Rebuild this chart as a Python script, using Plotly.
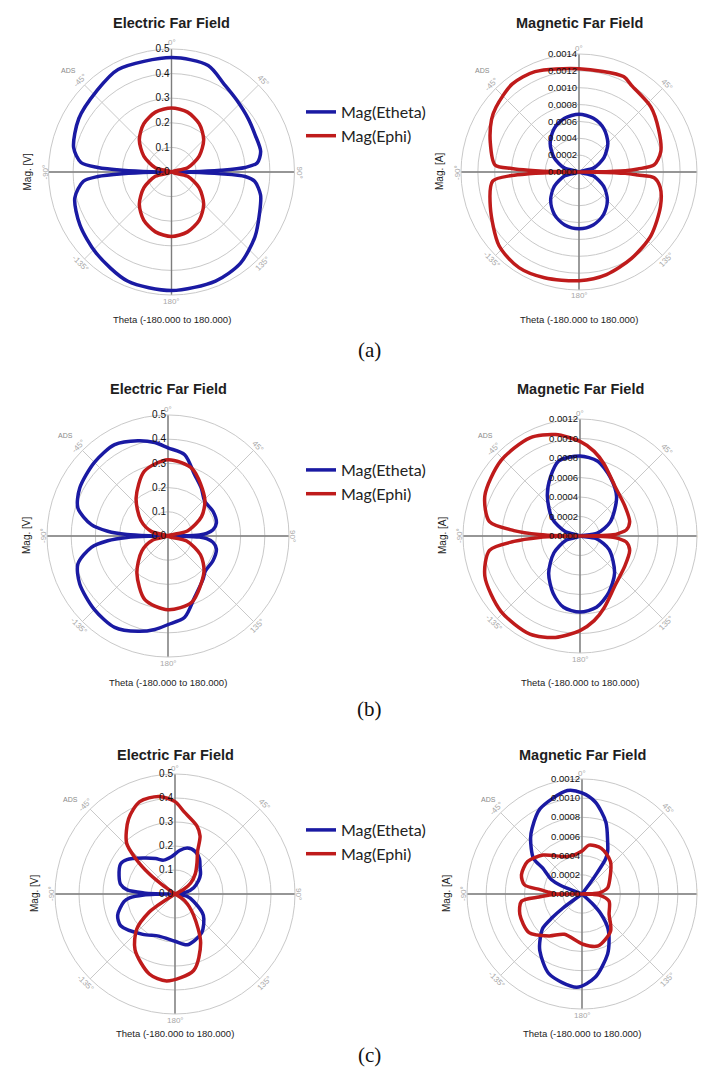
import math
import plotly.graph_objects as go

W, H = 706, 1069

# ---------------- data (theta: degrees clockwise from top) ----------------
# (a) Electric far field
a_e_etheta_theta = [0, 19, 31, 42, 55, 66, 77, 84, 86.5, 88, 89.3, 90, 90.7, 92, 93.5, 96.4, 104.5, 115, 128, 143, 158, 180,
                    202, 223, 240, 255, 264, 266.5, 268, 269.3, 270, 270.7, 272, 273.5, 276, 284, 300, 317, 332.5, 360]
a_e_etheta_r = [0.465, 0.458, 0.416, 0.395, 0.38, 0.372, 0.372, 0.35, 0.30, 0.20, 0.08, 0.0, 0.08, 0.20, 0.30, 0.34, 0.374, 0.395, 0.43, 0.465, 0.478, 0.482,
                0.478, 0.45, 0.43, 0.407, 0.36, 0.30, 0.20, 0.08, 0.0, 0.08, 0.20, 0.30, 0.37, 0.41, 0.435, 0.448, 0.47, 0.465]
a_e_ephi_theta = [0, 15, 30, 45, 60, 75, 90, 105, 120, 135, 150, 165, 180, 195, 210, 225, 240, 255, 270, 285, 300, 315, 330, 345, 360]
a_e_ephi_r = [0.26, 0.252, 0.226, 0.185, 0.13, 0.068, 0.0, 0.068, 0.13, 0.185, 0.226, 0.252, 0.262, 0.252, 0.226, 0.185, 0.13, 0.068, 0.0, 0.068, 0.13, 0.185, 0.226, 0.252, 0.26]

# (a) Magnetic far field
a_m_etheta_theta = [0, 15, 30, 45, 60, 75, 90, 105, 120, 135, 150, 165, 180, 195, 210, 225, 240, 255, 270, 285, 300, 315, 330, 345, 360]
a_m_etheta_r = [0.000685, 0.00066, 0.000592, 0.000484, 0.000342, 0.000177, 0.0, 0.000174, 0.000337, 0.000476, 0.000583, 0.00065, 0.000673,
                0.00065, 0.000583, 0.000476, 0.000337, 0.000174, 0.0, 0.000177, 0.000342, 0.000484, 0.000592, 0.00066, 0.000685]
a_m_ephi_theta = [0, 25, 31.4, 47.8, 62, 76, 84.6, 87, 88.3, 89.4, 90, 90.6, 91.7, 93, 94.4, 100.7, 113, 131.6, 148.7, 165, 180,
                  198.1, 212.1, 227.3, 248.6, 264, 267, 268, 269.4, 270, 270.6, 272, 273, 274.8, 288.5, 301, 308.1, 322.7, 336.3, 360]
a_m_ephi_r = [0.001225, 0.00125, 0.0012, 0.00115, 0.00107, 0.001, 0.000895, 0.0007, 0.00055, 0.0002, 0.0, 0.0002, 0.00055, 0.0007, 0.000894, 0.00098, 0.00105, 0.00114, 0.0012, 0.00126, 0.00129,
              0.00132, 0.00134, 0.00129, 0.00113, 0.00103, 0.0008, 0.0006, 0.00022, 0.0, 0.00022, 0.0006, 0.0008, 0.001, 0.00111, 0.00121, 0.00125, 0.00131, 0.0013, 0.001225]

# (b) Electric far field
b_e_etheta_theta = [0, 11.6, 23.5, 34.8, 46.6, 61.2, 75, 82, 86, 88, 89.3, 90, 90.7, 92, 94, 98, 105, 118.8, 133.4, 141, 156.5, 168.4, 180,
                    188, 197.5, 210.3, 225, 241.5, 252.7, 261.6, 265.5, 268, 269.3, 270, 270.7, 272, 274.5, 278.4, 287.3, 298.5, 315, 329.7, 342.5, 352, 360]
b_e_etheta_r = [0.364, 0.343, 0.276, 0.241, 0.209, 0.212, 0.207, 0.188, 0.16, 0.13, 0.06, 0.0, 0.06, 0.13, 0.16, 0.188, 0.207, 0.212, 0.212, 0.23, 0.276, 0.343, 0.366,
                0.39, 0.413, 0.437, 0.43, 0.415, 0.39, 0.32, 0.25, 0.17, 0.08, 0.0, 0.08, 0.17, 0.25, 0.32, 0.39, 0.415, 0.43, 0.437, 0.413, 0.39, 0.364]
b_e_ephi_theta = [0, 20, 45, 60, 75, 90, 105, 120, 135, 160, 180, 200, 220, 240, 255, 270, 285, 300, 320, 340, 360]
b_e_ephi_r = [0.315, 0.295, 0.215, 0.16, 0.085, 0.0, 0.08, 0.155, 0.21, 0.29, 0.305, 0.28, 0.2, 0.125, 0.065, 0.0, 0.07, 0.13, 0.205, 0.285, 0.315]

# (b) Magnetic far field
b_m_etheta_theta = [0, 13, 27, 43, 65, 80.5, 90, 99.5, 115, 137, 153, 167, 180, 193, 205, 220, 237, 253, 270, 287, 302.1, 320.8, 333.7, 344.3, 360]
b_m_etheta_r = [0.00082, 0.00079, 0.00068, 0.00055, 0.000343, 0.00018, 0.0, 0.00017, 0.00033, 0.00052, 0.00065, 0.00075, 0.00078,
                0.00075, 0.00065, 0.0005, 0.00032, 0.00015, 0.0, 0.00016, 0.000336, 0.00053, 0.00068, 0.0008, 0.00082]
b_m_ephi_theta = [0, 9.5, 18.3, 35, 56, 74, 82.5, 86, 88, 89.3, 90, 90.7, 92, 94, 97.5, 106, 124, 145, 161.7, 170.5, 180,
                  193.6, 207, 226.4, 247, 261, 265.3, 268, 269.3, 270, 270.7, 272, 274.7, 279, 293, 313.6, 333, 346.4, 360]
b_m_ephi_r = [0.00097, 0.00088, 0.00078, 0.000624, 0.000554, 0.00053, 0.00048, 0.0004, 0.00034, 0.00015, 0.0, 0.00015, 0.00034, 0.0004, 0.00048, 0.00053, 0.000554, 0.000624, 0.00078, 0.00088, 0.00097,
              0.00107, 0.00113, 0.00112, 0.00106, 0.00094, 0.00068, 0.00042, 0.0002, 0.0, 0.0002, 0.00042, 0.00068, 0.00094, 0.00106, 0.00112, 0.00113, 0.00107, 0.00097]

# (c) Electric far field
c_e_etheta_theta = [-90, -89, -88, -85, -80, -72, -61, -54.4, -41.6, -28.6, -18.7, -5.5, 6, 15, 25.6, 35, 43, 52, 60.7, 71.6, 80, 90,
                    100, 112, 127, 145.4, 166, 180, 201, 218.6, 239.7, 249.6, 261.5, 265, 268, 269, 270]
c_e_etheta_r = [0.0, 0.08, 0.13, 0.2, 0.23, 0.245, 0.259, 0.246, 0.2, 0.168, 0.149, 0.156, 0.182, 0.198, 0.196, 0.178, 0.153, 0.135, 0.112, 0.082, 0.05, 0.0,
                0.05, 0.084, 0.148, 0.196, 0.218, 0.197, 0.188, 0.215, 0.262, 0.255, 0.215, 0.19, 0.13, 0.08, 0.0]
c_e_ephi_theta = [-56, -54, -52, -48, -43.5, -31.7, -20.9, -9.4, 0, 6.4, 17.8, 23.4, 28, 35, 45, 55, 62, 68,
                  115, 125, 138.8, 152.3, 166.3, 185.5, 197.8, 215.6, 227.4, 235, 236.5, 239, 304]
c_e_ephi_r = [0.0, 0.07, 0.135, 0.22, 0.293, 0.368, 0.412, 0.412, 0.385, 0.344, 0.298, 0.263, 0.2, 0.16, 0.12, 0.08, 0.04, 0.0,
              0.0, 0.05, 0.118, 0.23, 0.328, 0.364, 0.35, 0.286, 0.217, 0.131, 0.09, 0.0, 0.0]

# (c) Magnetic far field
c_m_etheta_theta = [-72, -68, -65, -56.6, -53.6, -42.8, -37.3, -26.3, -8, 0, 8.2, 18.4, 26, 31, 34, 35.5, 37, 38,
                    128, 133, 136.6, 143, 150, 157, 171, 183.2, 202.4, 216.6, 223, 229, 231.5, 233.5, 235, 288]
c_m_etheta_r = [0.0, 0.00025, 0.00035, 0.00049, 0.00063, 0.00079, 0.00086, 0.00099, 0.00109, 0.001055, 0.00097, 0.00079, 0.00061, 0.00052, 0.00044, 0.00028, 0.00012, 0.0,
                0.0, 0.00015, 0.00029, 0.00045, 0.000565, 0.000682, 0.00088, 0.000974, 0.000902, 0.000738, 0.00064, 0.00054, 0.0004, 0.00025, 0.0, 0.0]
c_m_ephi_theta = [-90, -89.5, -86.5, -84, -81, -72.4, -59.2, -45.1, -25, -12, 0, 8.2, 23, 41.4, 60.5, 76.9, 86, 88, 90,
                  92, 94, 104.9, 127, 142.3, 162.6, 179, 203.5, 218.1, 233.9, 251.7, 263.2, 266, 268, 269.5, 270]
c_m_ephi_r = [0.0, 0.00028, 0.00036, 0.00044, 0.000608, 0.000663, 0.000661, 0.000576, 0.00043, 0.000415, 0.000448, 0.000515, 0.000517, 0.00045, 0.000335, 0.000273, 0.00018, 0.00011, 0.0,
              0.00011, 0.00018, 0.000292, 0.000354, 0.000488, 0.000567, 0.000524, 0.000459, 0.000556, 0.000684, 0.000683, 0.000636, 0.00045, 0.00035, 0.00028, 0.0]

# axis settings
e_range, e_dtick = 0.5, 0.1
m_range_a, m_range_bc, m_dtick = 0.0014, 0.0012, 0.0002

angle_vals = [0, 45, 90, 135, 180, 225, 270, 315]
angle_text = ["0°", "45°", "90°", "135°", "180°", "-135°", "-90°", "-45°"]
angle_rot = [0, 45, 90, -45, 0, 45, -90, -45]

BLUE = "#1a1aa3"
RED = "#bf1b1b"
GRID = "#c9c9c9"
CROSS = "#7d7d7d"
FONT = "Liberation Sans, Arial"

# panels: id, centre px, radius px, rmax, dtick, fmt, unit, title, series, legend, title y, theta-label y, ADS pos
panels = [
    ("polar", (163.5, 164), 123, e_range, e_dtick, ".1f", "Mag. [V]", "Electric Far Field",
     (a_e_etheta_theta, a_e_etheta_r, a_e_ephi_theta, a_e_ephi_r), "legend", 15, 311, (60, 62)),
    ("polar2", (571, 164), 118, m_range_a, m_dtick, ".4f", "Mag. [A]", "Magnetic Far Field",
     (a_m_etheta_theta, a_m_etheta_r, a_m_ephi_theta, a_m_ephi_r), None, 15, 311, (474, 62)),
    ("polar3", (160, 528), 121, e_range, e_dtick, ".1f", "Mag. [V]", "Electric Far Field",
     (b_e_etheta_theta, b_e_etheta_r, b_e_ephi_theta, b_e_ephi_r), "legend2", 381, 674, (57, 427)),
    ("polar4", (572, 528), 117, m_range_bc, m_dtick, ".4f", "Mag. [A]", "Magnetic Far Field",
     (b_m_etheta_theta, b_m_etheta_r, b_m_ephi_theta, b_m_ephi_r), None, 381, 674, (477, 427)),
    ("polar5", (167, 886), 120, e_range, e_dtick, ".1f", "Mag. [V]", "Electric Far Field",
     (c_e_etheta_theta, c_e_etheta_r, c_e_ephi_theta, c_e_ephi_r), "legend3", 747, 1025, (62, 791)),
    ("polar6", (574, 886), 115, m_range_bc, m_dtick, ".4f", "Mag. [A]", "Magnetic Far Field",
     (c_m_etheta_theta, c_m_etheta_r, c_m_ephi_theta, c_m_ephi_r), None, 747, 1025, (480, 791)),
]

fig = go.Figure()
layout = {}
annotations = []


def px(x):
    return x / W


def py(y):
    return 1 - y / H


for (pid, (cx, cy), rad, rmax, dtick, fmt, unit, title, series, leg,
     ty, thy, ads) in panels:
    layout[pid] = dict(
        domain=dict(x=[px(cx - rad), px(cx + rad)], y=[py(cy + rad), py(cy - rad)]),
        bgcolor="white",
        angularaxis=dict(rotation=90, direction="clockwise", tickmode="array",
                         tickvals=angle_vals, showticklabels=False,
                         showgrid=True, gridcolor=GRID, gridwidth=1,
                         showline=True, linecolor=GRID, linewidth=1, ticks=""),
        radialaxis=dict(range=[0, rmax], dtick=dtick, tickformat=fmt, angle=90,
                        side="counterclockwise", tickangle=90,
                        tickfont=dict(family=FONT, size=9.5 if fmt == ".4f" else 10, color="#111111"),
                        showline=False, showgrid=True, gridcolor=GRID, gridwidth=1, ticks=""),
    )
    fig.add_trace(go.Scatterpolar(r=[rmax, 0, rmax], theta=[0, 0, 180], mode="lines",
                                  line=dict(color=CROSS, width=1.4), subplot=pid,
                                  showlegend=False, hoverinfo="skip"))
    fig.add_trace(go.Scatterpolar(r=[rmax, 0, rmax], theta=[90, 90, 270], mode="lines",
                                  line=dict(color=CROSS, width=1.4), subplot=pid,
                                  showlegend=False, hoverinfo="skip"))
    th_t, r_t, th_p, r_p = series
    is_e = leg is not None
    fig.add_trace(go.Scatterpolar(r=r_t, theta=th_t, mode="lines", name="Mag(Etheta)",
                                  line=dict(color=BLUE, width=3.5, shape="spline", smoothing=0.8),
                                  subplot=pid, showlegend=is_e, legend=leg if is_e else "legend"))
    fig.add_trace(go.Scatterpolar(r=r_p, theta=th_p, mode="lines", name="Mag(Ephi)",
                                  line=dict(color=RED, width=3.5, shape="spline", smoothing=0.8),
                                  subplot=pid, showlegend=is_e, legend=leg if is_e else "legend"))

    # angular labels, written tangentially like the reference
    for av, at, ar in zip(angle_vals, angle_text, angle_rot):
        rr = rad + (4 if av in (90, 270) else 6)
        ax_ = cx + rr * math.sin(math.radians(av))
        ay_ = cy - rr * math.cos(math.radians(av))
        annotations.append(dict(text=at, x=px(ax_), y=py(ay_), xref="paper", yref="paper",
                                showarrow=False, textangle=ar,
                                font=dict(family=FONT, size=8, color="#a8a8a8"),
                                xanchor="center", yanchor="middle"))

    annotations.append(dict(text="<b>%s</b>" % title, x=px(cx), y=py(ty), xref="paper", yref="paper",
                            showarrow=False, font=dict(family=FONT, size=14.5, color="#1e1e1e"),
                            xanchor="center", yanchor="middle"))
    annotations.append(dict(text="Theta (-180.000 to 180.000)", x=px(cx), y=py(thy),
                            xref="paper", yref="paper", showarrow=False,
                            font=dict(family=FONT, size=9.5, color="#222222"),
                            xanchor="center", yanchor="middle"))
    annotations.append(dict(text=unit, x=px(cx - rad - 21), y=py(cy), xref="paper", yref="paper",
                            showarrow=False, textangle=-90,
                            font=dict(family=FONT, size=10, color="#222222"),
                            xanchor="center", yanchor="middle"))
    annotations.append(dict(text="ADS", x=px(ads[0]), y=py(ads[1]), xref="paper", yref="paper",
                            showarrow=False, font=dict(family=FONT, size=7, color="#8a8a8a"),
                            xanchor="center", yanchor="middle"))

for lab, yy in [("(a)", 342), ("(b)", 701), ("(c)", 1047)]:
    annotations.append(dict(text=lab, x=px(362), y=py(yy), xref="paper", yref="paper", showarrow=False,
                            font=dict(family="Liberation Serif, Times New Roman", size=21, color="#111111"),
                            xanchor="center", yanchor="middle"))

leg_common = dict(font=dict(family="Lato, Open Sans", size=16, color="#222222"), bgcolor="rgba(0,0,0,0)",
                  xanchor="left", yanchor="middle", itemwidth=30, tracegroupgap=0)
layout["legend"] = dict(x=px(293), y=py(116), **leg_common)
layout["legend2"] = dict(x=px(293), y=py(474), **leg_common)
layout["legend3"] = dict(x=px(293), y=py(834), **leg_common)

fig.update_layout(width=W, height=H, margin=dict(l=0, r=0, t=0, b=0),
                  paper_bgcolor="white", plot_bgcolor="white",
                  annotations=annotations, **layout)

fig.write_html("out.html")
